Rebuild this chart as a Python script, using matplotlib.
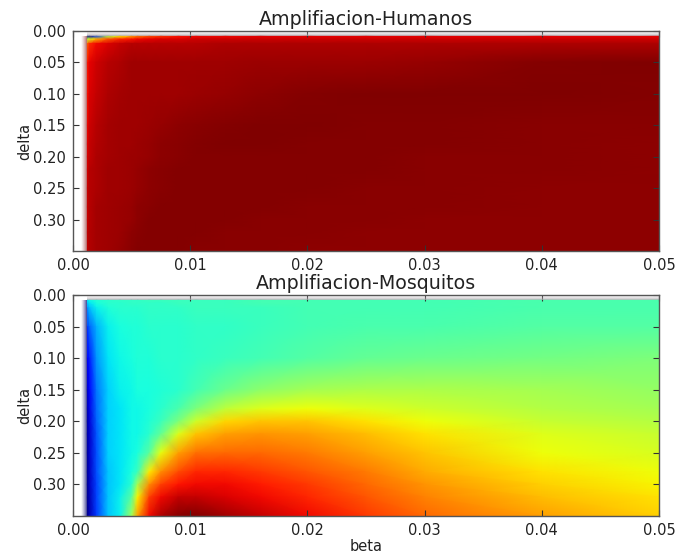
import numpy as np
import matplotlib
matplotlib.use("Agg")
import matplotlib.pyplot as plt

beta = [0.0008, 0.0012, 0.0014, 0.002, 0.003, 0.004, 0.005, 0.0055, 0.0065, 0.0075,
        0.009, 0.0105, 0.013, 0.016, 0.02, 0.025, 0.03, 0.04, 0.05]
delta = [0.0, 0.004, 0.008, 0.013, 0.02, 0.05, 0.10, 0.15, 0.18, 0.20, 0.22, 0.25, 0.28, 0.30, 0.32, 0.35]
nan = np.nan

humanos = [
    [nan]*19,
    [nan]*19,
    [nan, 0.02, 0.03, 0.20, 0.55, 0.65, 0.73, 0.77, 0.82, 0.85, 0.89, 0.90, 0.90, 0.91, 0.91, 0.91, 0.91, 0.91, 0.91],
    [nan, 0.55, 0.62, 0.72, 0.82, 0.87, 0.89, 0.90, 0.91, 0.92, 0.92, 0.93, 0.93, 0.93, 0.93, 0.93, 0.93, 0.93, 0.93],
    [nan, 0.80, 0.86, 0.90, 0.92, 0.94, 0.95, 0.95, 0.95, 0.95, 0.95, 0.95, 0.96, 0.96, 0.96, 0.96, 0.96, 0.96, 0.96],
    [nan, 0.88, 0.91, 0.93, 0.95, 0.96, 0.97, 0.97, 0.97, 0.97, 0.97, 0.97, 0.97, 0.975, 0.975, 0.975, 0.98, 0.995, 1.00],
    [nan, 0.89, 0.92, 0.94, 0.96, 0.965, 0.97, 0.97, 0.97, 0.97, 0.97, 0.975, 0.98, 0.985, 0.995, 1.00, 1.00, 0.998, 0.995],
    [nan, 0.90, 0.93, 0.95, 0.965, 0.97, 0.97, 0.97, 0.975, 0.98, 0.985, 0.99, 0.995, 1.00, 0.998, 0.995, 0.995, 0.992, 0.99],
    [nan, 0.91, 0.94, 0.955, 0.965, 0.97, 0.97, 0.975, 0.98, 0.985, 0.99, 0.995, 0.998, 0.998, 0.995, 0.995, 0.993, 0.99, 0.988],
    [nan, 0.92, 0.94, 0.96, 0.965, 0.97, 0.975, 0.975, 0.98, 0.985, 0.992, 0.996, 0.996, 0.995, 0.995, 0.993, 0.992, 0.99, 0.988],
    [nan, 0.92, 0.95, 0.96, 0.97, 0.97, 0.975, 0.98, 0.985, 0.99, 0.995, 0.996, 0.995, 0.995, 0.994, 0.993, 0.992, 0.99, 0.988],
    [nan, 0.93, 0.95, 0.96, 0.97, 0.97, 0.975, 0.98, 0.985, 0.992, 0.996, 0.996, 0.995, 0.994, 0.993, 0.992, 0.99, 0.988, 0.988],
    [nan, 0.93, 0.95, 0.965, 0.97, 0.975, 0.98, 0.985, 0.99, 0.995, 0.996, 0.995, 0.994, 0.993, 0.992, 0.99, 0.99, 0.988, 0.986],
    [nan, 0.93, 0.95, 0.965, 0.97, 0.975, 0.98, 0.985, 0.995, 0.995, 0.995, 0.994, 0.993, 0.992, 0.99, 0.99, 0.988, 0.986, 0.986],
    [nan, 0.94, 0.955, 0.965, 0.97, 0.975, 0.985, 0.99, 0.995, 0.995, 0.994, 0.993, 0.992, 0.99, 0.99, 0.988, 0.988, 0.986, 0.986],
    [nan, 0.94, 0.955, 0.965, 0.97, 0.98, 0.99, 0.995, 0.995, 0.995, 0.993, 0.992, 0.99, 0.99, 0.988, 0.988, 0.986, 0.986, 0.986],
]

mosquitos = [
    [nan]*19,
    [nan]*19,
    [nan, 0.34, 0.37, 0.39, 0.40, 0.41, 0.41, 0.41, 0.42, 0.42, 0.42, 0.42, 0.42, 0.43, 0.43, 0.43, 0.43, 0.44, 0.44],
    [nan, 0.32, 0.35, 0.38, 0.40, 0.40, 0.41, 0.41, 0.41, 0.41, 0.42, 0.42, 0.42, 0.43, 0.43, 0.43, 0.43, 0.44, 0.44],
    [nan, 0.27, 0.31, 0.36, 0.39, 0.40, 0.40, 0.40, 0.41, 0.41, 0.41, 0.42, 0.42, 0.42, 0.43, 0.43, 0.43, 0.44, 0.44],
    [nan, 0.18, 0.22, 0.30, 0.36, 0.38, 0.39, 0.39, 0.40, 0.40, 0.40, 0.41, 0.41, 0.42, 0.43, 0.44, 0.44, 0.45, 0.45],
    [nan, 0.11, 0.15, 0.27, 0.35, 0.37, 0.38, 0.39, 0.39, 0.40, 0.40, 0.41, 0.42, 0.43, 0.45, 0.47, 0.48, 0.49, 0.50],
    [nan, 0.07, 0.11, 0.24, 0.33, 0.36, 0.37, 0.38, 0.38, 0.39, 0.40, 0.43, 0.48, 0.52, 0.55, 0.56, 0.56, 0.55, 0.53],
    [nan, 0.05, 0.09, 0.23, 0.33, 0.35, 0.37, 0.37, 0.38, 0.40, 0.44, 0.50, 0.58, 0.62, 0.64, 0.62, 0.60, 0.57, 0.55],
    [nan, 0.04, 0.08, 0.22, 0.33, 0.35, 0.37, 0.37, 0.39, 0.42, 0.50, 0.60, 0.68, 0.70, 0.70, 0.67, 0.64, 0.59, 0.57],
    [nan, 0.04, 0.07, 0.21, 0.33, 0.35, 0.37, 0.37, 0.40, 0.47, 0.62, 0.70, 0.74, 0.75, 0.74, 0.71, 0.67, 0.62, 0.59],
    [nan, 0.03, 0.07, 0.20, 0.33, 0.35, 0.37, 0.38, 0.46, 0.63, 0.74, 0.79, 0.80, 0.80, 0.78, 0.74, 0.70, 0.64, 0.61],
    [nan, 0.03, 0.06, 0.20, 0.32, 0.35, 0.38, 0.42, 0.66, 0.76, 0.83, 0.87, 0.87, 0.85, 0.82, 0.78, 0.73, 0.67, 0.64],
    [nan, 0.02, 0.06, 0.19, 0.32, 0.35, 0.40, 0.55, 0.76, 0.84, 0.89, 0.90, 0.90, 0.88, 0.85, 0.80, 0.75, 0.69, 0.65],
    [nan, 0.02, 0.05, 0.19, 0.32, 0.36, 0.46, 0.65, 0.84, 0.90, 0.94, 0.94, 0.92, 0.90, 0.87, 0.82, 0.77, 0.71, 0.67],
    [nan, 0.01, 0.05, 0.18, 0.32, 0.36, 0.55, 0.74, 0.90, 0.96, 0.995, 1.00, 0.97, 0.94, 0.90, 0.85, 0.80, 0.74, 0.69],
]

titles = ["Amplifiacion-Humanos", "Amplifiacion-Mosquitos"]
xticks = [0.00, 0.01, 0.02, 0.03, 0.04, 0.05]
yticks = [0.00, 0.05, 0.10, 0.15, 0.20, 0.25, 0.30]

cmap = plt.get_cmap("jet").copy()
cmap.set_bad("white")

fig = plt.figure(figsize=(6.77, 5.58), dpi=100)
W, H = 677.0, 558.0
boxes = [(73, 31, 659, 251), (73, 295, 659, 516)]
left_edge = [(0.72, 0.45, 0.45), (0.30, 0.30, 0.60)]
top_edge = (0.70, 0.68, 0.70)


def fade(ax, extent, axis, rgb, top_alpha):
    """Soft edge where the image meets the blank (masked) cells."""
    ramp = np.linspace(0, 1, 32)
    rgba = np.ones((1, 32, 4)) if axis == "x" else np.ones((32, 1, 4))
    rgba[..., :3] = rgb
    rgba[..., 3] = (top_alpha * ramp ** 1.2).reshape(rgba.shape[:2])
    ax.imshow(rgba, extent=extent, aspect="auto", interpolation="bilinear",
              origin="lower" if axis == "y" else "upper", zorder=3)


for (x0, y0, x1, y1), grid, title, edge in zip(boxes, [humanos, mosquitos], titles, left_edge):
    ax = fig.add_axes([x0/W, 1-y1/H, (x1-x0)/W, (y1-y0)/H])
    data = np.ma.masked_invalid(np.array(grid, dtype=float))
    ax.pcolormesh(beta, delta, data, cmap=cmap, vmin=0, vmax=1, shading="gouraud")
    fade(ax, (0.0007, 0.0012, 0.35, 0.008), "x", edge, 1.0)
    fade(ax, (0.0012, 0.05, 0.001, 0.008), "y", top_edge, 0.8)
    ax.set_xlim(0, 0.05)
    ax.set_ylim(0.35, 0)
    ax.set_xticks(xticks)
    ax.set_yticks(yticks)
    ax.set_xticklabels([f"{t:.2f}" for t in xticks])
    ax.set_yticklabels([f"{t:.2f}" for t in yticks])
    ax.tick_params(direction="in", top=True, right=True, length=4, width=0.8,
                   labelsize=10.5, color="#333333", labelcolor="#222222", pad=5)
    for s in ax.spines.values():
        s.set_linewidth(1.0)
        s.set_color("#555555")
        s.set_zorder(5)
    ax.set_ylabel("delta", fontsize=10.5, color="#222222", labelpad=1)
    ax.set_title(title, fontsize=13.7, color="#222222", pad=4.5)
    last = ax

last.set_xlabel("beta", fontsize=10.5, color="#222222", labelpad=1)
fig.savefig("out.png", dpi=100)
